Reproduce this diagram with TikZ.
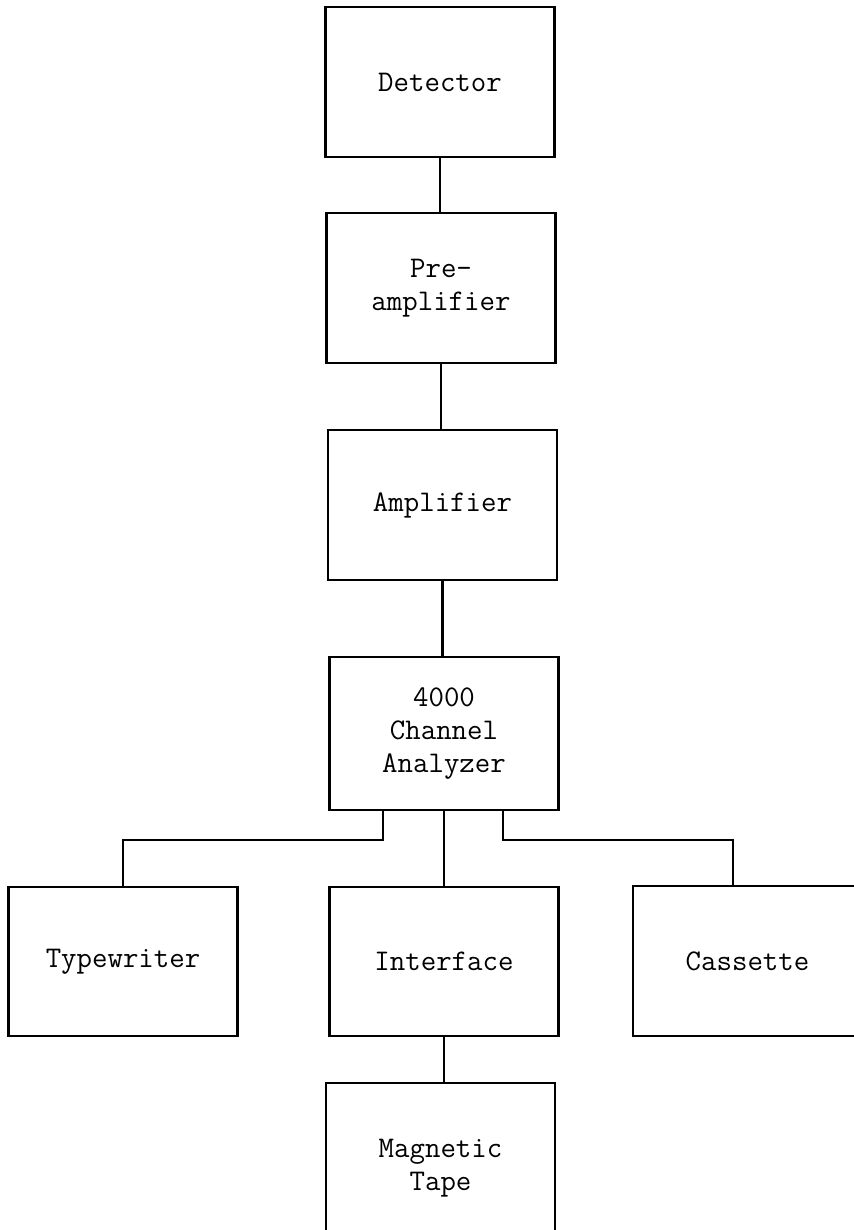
\documentclass[tikz,border=0pt]{standalone}
\begin{document}
\begin{tikzpicture}[x=0.5pt,y=-0.5pt]
    \useasboundingbox (0,0) rectangle (854,1230);
    \clip (0,0) rectangle (854,1230);
    \begin{scope}[every node/.style={rectangle,draw,line width=1.2pt,minimum width=114.5pt,
        minimum height=75pt,align=center,font=\ttfamily\fontsize{15}{16.5}\selectfont}]
      \node (det) at (440,82) {Detector};
      \node (pre) at (441,288) {Pre-\\amplifier};
      \node (amp) at (442.5,505) {Amplifier};
      \node (ana)[minimum height=76.5pt] at (444,733.5) {4000\\Channel\\Analyzer};
      \node (type)[minimum height=74.5pt] at (123,961.5) {Typewriter};
      \node (iface)[minimum height=74.5pt] at (444,961.5) {Interface};
      \node (cass)[minimum height=75pt] at (747.5,961) {Cassette};
      \node (tape)[minimum height=85pt] at (440.5,1168) {Magnetic\\Tape};
    \end{scope}
    \begin{scope}[every edge/.style={draw=black,line width=1.2pt}]
      \path (det.south) edge (det.south |- pre.north)
            (pre.south) edge (pre.south |- amp.north)
            (amp.south) edge (amp.south |- ana.north)
            (ana.south) edge (ana.south |- iface.north)
            (iface.south) edge (iface.south |- tape.north);
    \end{scope}
    \begin{scope}[line width=1.2pt]
      \draw ([xshift=-30.5pt]ana.south) |- ([yshift=23pt]type.north) -- (type.north);
      \draw ([xshift=29.5pt]ana.south) |- ([yshift=22.5pt]cass.north -| 733,0) -- (cass.north -| 733,0);
    \end{scope}
\end{tikzpicture}
\end{document}
